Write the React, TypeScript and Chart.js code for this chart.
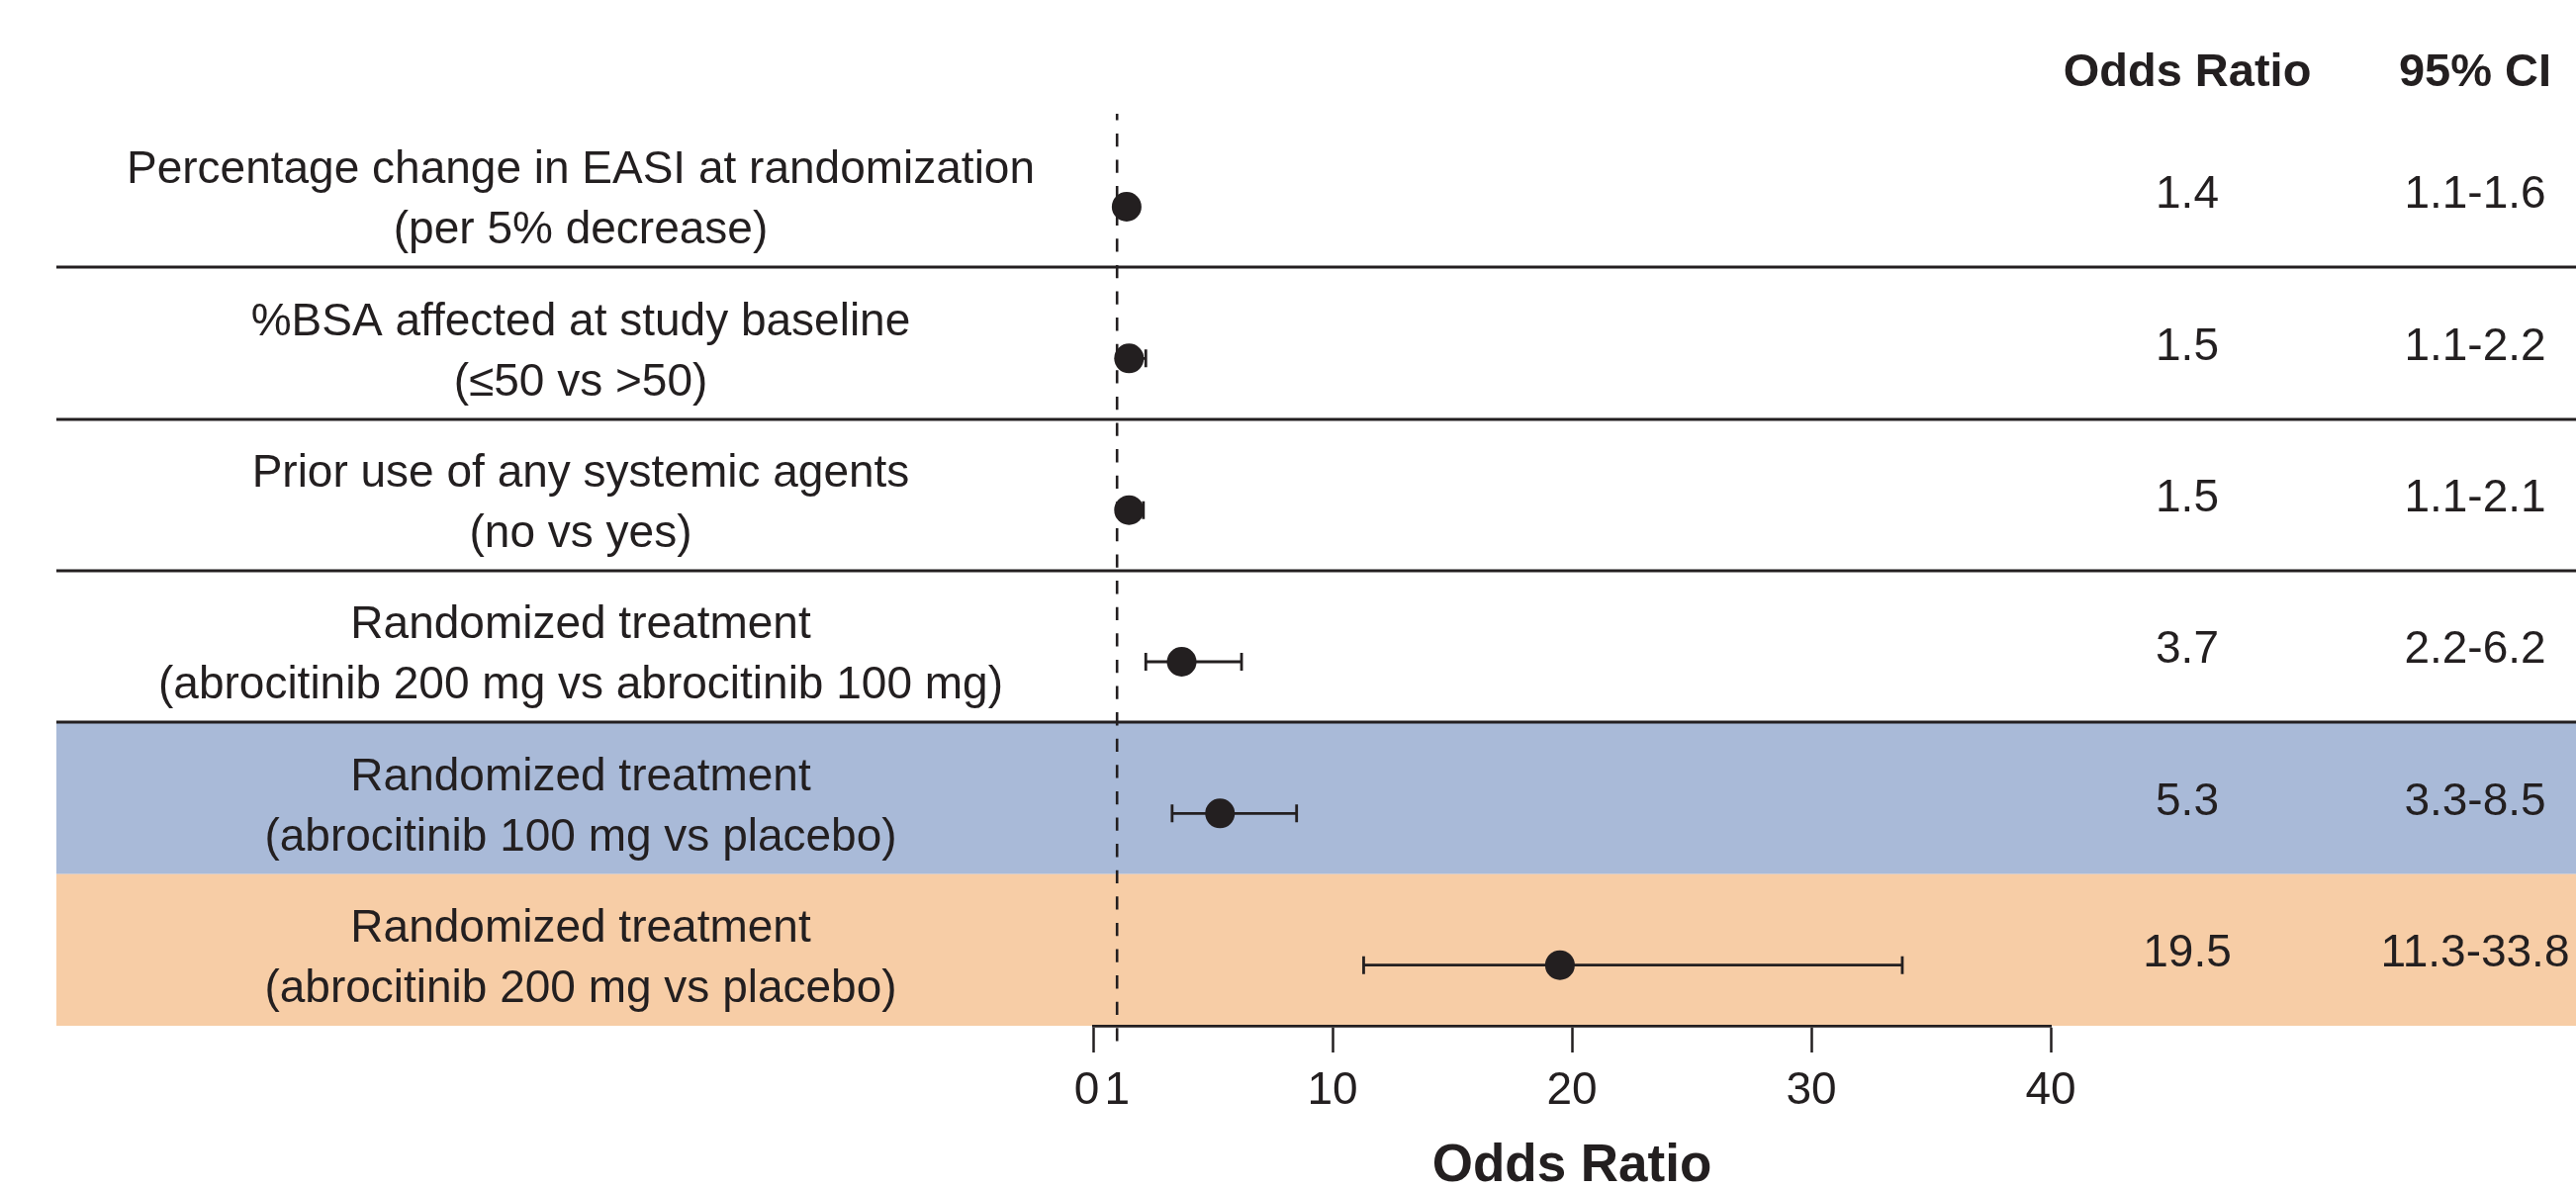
import React, { useEffect, useRef } from "react";
import { Chart, registerables } from "chart.js";

Chart.register(...registerables);

// ---------- data ----------
const rowTitles = [
  "Percentage change in EASI at randomization",
  "%BSA affected at study baseline",
  "Prior use of any systemic agents",
  "Randomized treatment",
  "Randomized treatment",
  "Randomized treatment",
];
const rowSubtitles = [
  "(per 5% decrease)",
  "(\u226450 vs >50)",
  "(no vs yes)",
  "(abrocitinib 200 mg vs abrocitinib 100 mg)",
  "(abrocitinib 100 mg vs placebo)",
  "(abrocitinib 200 mg vs placebo)",
];
const oddsRatios = [1.4, 1.5, 1.5, 3.7, 5.3, 19.5];
const ciLower = [1.1, 1.1, 1.1, 2.2, 3.3, 11.3];
const ciUpper = [1.6, 2.2, 2.1, 6.2, 8.5, 33.8];
const oddsRatioText = ["1.4", "1.5", "1.5", "3.7", "5.3", "19.5"];
const ciText = ["1.1-1.6", "1.1-2.2", "1.1-2.1", "2.2-6.2", "3.3-8.5", "11.3-33.8"];
const xTickValues = [0, 1, 10, 20, 30, 40];
const columnHeaders = ["Odds Ratio", "95% CI"];
const axisTitle = "Odds Ratio";
const referenceValue = 1;

// ---------- styles ----------
const FONT = '"Liberation Sans", Arial, Helvetica, sans-serif';
const INK = "#231F20";
const BAND_STYLE: Record<number, string> = { 4: "#A9BAD8", 5: "#F7CDA6" };

const forestPlugin = {
  id: "forestDecor",
  beforeDraw(chart: any) {
    const { ctx, scales } = chart;
    const y = scales.y;
    const left = 57;
    const right = chart.width;
    ctx.save();
    // shaded bands
    for (let i = 0; i < rowTitles.length; i++) {
      const c = BAND_STYLE[i];
      if (!c) continue;
      const t = y.getPixelForValue(i - 0.6);
      const b = y.getPixelForValue(i + 0.4);
      ctx.fillStyle = c;
      ctx.fillRect(left, t, right - left, b - t);
    }
    // separators
    ctx.strokeStyle = INK;
    ctx.lineWidth = 2.8;
    for (let i = 0; i < rowTitles.length - 1; i++) {
      if (BAND_STYLE[i]) continue;
      const py = Math.round(y.getPixelForValue(i + 0.4));
      ctx.beginPath();
      ctx.moveTo(left, py);
      ctx.lineTo(right, py);
      ctx.stroke();
    }
    // text
    ctx.fillStyle = INK;
    ctx.textAlign = "center";
    ctx.textBaseline = "middle";
    ctx.font = `bold 47px ${FONT}`;
    ctx.fillText(columnHeaders[0], 2211, 74);
    ctx.fillText(columnHeaders[1], 2502, 74);
    ctx.font = `46px ${FONT}`;
    for (let i = 0; i < rowTitles.length; i++) {
      const cy = y.getPixelForValue(i - 0.1);
      ctx.fillText(rowTitles[i], 587, cy - 21);
      ctx.fillText(rowSubtitles[i], 587, cy + 40);
      ctx.fillText(oddsRatioText[i], 2211, cy + 4);
      ctx.fillText(ciText[i], 2502, cy + 4);
    }
    ctx.restore();
  },
  beforeDatasetsDraw(chart: any) {
    const { ctx, scales, chartArea } = chart;
    const x = scales.x;
    const y = scales.y;
    ctx.save();
    // reference dashed line
    const rx = x.getPixelForValue(referenceValue);
    ctx.strokeStyle = INK;
    ctx.lineWidth = 2.6;
    ctx.setLineDash([13.3, 13.3]);
    ctx.lineDashOffset = 6.7;
    ctx.beginPath();
    ctx.moveTo(rx, chartArea.top - 2);
    ctx.lineTo(rx, chartArea.bottom + 16);
    ctx.stroke();
    ctx.setLineDash([]);
    // error bars
    ctx.lineWidth = 2.8;
    for (let i = 0; i < oddsRatios.length; i++) {
      const py = y.getPixelForValue(i);
      const xl = x.getPixelForValue(ciLower[i]);
      const xh = x.getPixelForValue(ciUpper[i]);
      ctx.beginPath();
      ctx.moveTo(xl, py);
      ctx.lineTo(xh, py);
      ctx.moveTo(xl, py - 9);
      ctx.lineTo(xl, py + 9);
      ctx.moveTo(xh, py - 9);
      ctx.lineTo(xh, py + 9);
      ctx.stroke();
    }
    ctx.restore();
  },
};

export default function App() {
  const ref = useRef<HTMLCanvasElement | null>(null);

  useEffect(() => {
    document.body.style.margin = "0";
    document.body.style.overflow = "hidden";
    const canvas = ref.current;
    if (!canvas) return;
    const chart = new Chart(canvas, {
      type: "scatter",
      data: {
        datasets: [
          {
            data: oddsRatios.map((v, i) => ({ x: v, y: i })),
            pointRadius: 15,
            pointHoverRadius: 15,
            backgroundColor: INK,
            borderColor: INK,
            borderWidth: 0,
          },
        ],
      },
      options: {
        animation: false,
        responsive: false,
        events: [],
        layout: { padding: { left: 1105, right: 531, top: 117, bottom: 0 } },
        plugins: {
          legend: { display: false },
          tooltip: { enabled: false },
          title: { display: false },
        },
        scales: {
          x: {
            type: "linear",
            position: "bottom",
            min: 0,
            max: 40,
            afterBuildTicks: (s: any) => {
              s.ticks = xTickValues.map((v) => ({ value: v }));
            },
            afterFit: (s: any) => {
              s.height = 164;
            },
            ticks: {
              autoSkip: false,
              maxRotation: 0,
              color: INK,
              padding: 12,
              font: { family: FONT, size: 46 },
              callback: (v: any) => (v === 0 ? "0 " : String(v)),
            },
            grid: {
              drawOnChartArea: false,
              drawTicks: true,
              tickLength: 27,
              tickWidth: 2.5,
              color: INK,
              tickColor: (c: any) =>
                c.tick && c.tick.value === referenceValue ? "rgba(0,0,0,0)" : INK,
            },
            border: { display: true, color: INK, width: 2.8 },
            title: {
              display: true,
              text: axisTitle,
              color: INK,
              font: { family: FONT, size: 53, weight: "bold", lineHeight: 0.8 },
              padding: { top: 0, bottom: 0 },
            },
          },
          y: {
            type: "linear",
            display: false,
            min: -0.6,
            max: 5.4,
            reverse: true,
          },
        },
      },
      plugins: [forestPlugin],
    } as any);
    return () => chart.destroy();
  }, []);

  return (
    <canvas
      ref={ref}
      width={2604}
      height={1201}
      style={{ display: "block", width: "2604px", height: "1201px" }}
    />
  );
}
